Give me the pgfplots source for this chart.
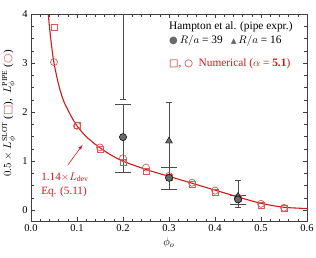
\documentclass[border=0pt]{standalone}
\usepackage{pgfplots}
\pgfplotsset{compat=1.18}
\usepackage{fontspec}
\setmainfont{Liberation Serif}
\newfontfamily\symfont{DejaVu Sans}
\definecolor{cred}{RGB}{210,25,25}
\definecolor{mred}{RGB}{215,90,90}
\definecolor{mgray}{RGB}{105,105,105}
\begin{document}
\begin{tikzpicture}
\useasboundingbox (-31bp,-37bp) rectangle (285bp,221bp);
\begin{axis}[
  at={(0,0)}, anchor=south west,
  scale only axis, width=276bp, height=207bp,
  xmin=0, xmax=0.6, ymin=-0.22, ymax=4,
  xtick={0,0.1,...,0.6}, ytick={0,1,2,3,4},
  minor x tick num=4, minor y tick num=3,
  tick align=inside, ticks=both,
  major tick length=4bp, minor tick length=2.5bp,
  axis line style={black!75, line width=0.6pt},
  every tick/.style={black!75, line width=0.5pt},
  xticklabel style={/pgf/number format/fixed, /pgf/number format/fixed zerofill, /pgf/number format/precision=1},
  /pgf/number format/assume math mode=true,
  tick label style={font=\fontsize{10.5}{12}\selectfont},
  label style={font=\fontsize{11}{13}\selectfont},
  xlabel={$\phi_o$},
  ylabel={$0.5\times L_\phi^{\mathrm{SLOT}}$ ({\color{mred}\symfont □}),\enspace $L_\phi^{\mathrm{PIPE}}$ ({\color{mred}\symfont ○})},
  ylabel style={at={(axis description cs:-0.08,0.52)}, anchor=center},
  xlabel style={at={(axis description cs:0.5,-0.106)}, anchor=center},
  clip=true,
]
% model curve 1.14 x L_dev
\addplot[cred, line width=1.1pt, smooth, tension=0.5] coordinates {
 (0.0376,4.0) (0.04,3.75) (0.045,3.33) (0.05,3.0) (0.06,2.56) (0.07,2.25)
 (0.08,2.05) (0.09,1.87) (0.1,1.72) (0.12,1.5) (0.15,1.27) (0.175,1.12)
 (0.2,1.0) (0.25,0.83) (0.3,0.69) (0.35,0.55) (0.4,0.41) (0.45,0.27)
 (0.5,0.14) (0.55,0.06) (0.6,0.035)};
% numerical squares
\addplot[only marks, mark=square, mark size=3bp, mred, mark options={line width=0.7pt}] coordinates {
 (0.05,3.73) (0.1,1.72) (0.15,1.25) (0.2,0.97) (0.25,0.80) (0.3,0.66)
 (0.35,0.53) (0.4,0.37) (0.45,0.24) (0.5,0.10) (0.55,0.03)};
% numerical circles
\addplot[only marks, mark=o, mark size=3.5bp, mred, mark options={line width=0.7pt}] coordinates {
 (0.05,3.02) (0.1,1.72) (0.15,1.28) (0.2,1.06) (0.25,0.87) (0.3,0.70)
 (0.35,0.56) (0.4,0.40) (0.45,0.26) (0.5,0.13) (0.55,0.05)};
% Hampton R/a=16 off-scale at 0.2 (lower error bar only)
\addplot[mark=none, draw=none, error bars/.cd, y dir=minus, y explicit,
  error bar style={draw=black!70, line width=0.6pt},
  error mark options={rotate=90, mark size=3bp, draw=black!70, line width=0.6pt}]
  coordinates {(0.2,5.2) -= (0,2.94)};
% Hampton R/a=16 triangles
\addplot[only marks, mark=triangle*, mark size=4bp, mark options={fill=mgray, draw=black, line width=0.4pt},
  error bars/.cd, y dir=both, y explicit,
  error bar style={draw=black!70, line width=0.6pt},
  error mark options={rotate=90, mark size=3bp, draw=black!70, line width=0.6pt}]
  coordinates {(0.3,1.41) += (0,0.80) -= (0,0.80) (0.45,0.28) += (0,0.32) -= (0,0.22)};
% Hampton R/a=39 circles
\addplot[only marks, mark=*, mark size=3.6bp, mark options={fill=mgray, draw=black, line width=0.5pt},
  error bars/.cd, y dir=both, y explicit,
  error bar style={draw=black!70, line width=0.6pt},
  error mark options={rotate=90, mark size=8bp, draw=black!70, line width=0.6pt}]
  coordinates {(0.2,1.49) += (0,0.67) -= (0,0.71) (0.3,0.66) += (0,0.21) -= (0,0.23) (0.45,0.22) += (0,0.09) -= (0,0.09)};
% legend text
\node[anchor=west, font=\fontsize{11.4}{13}\selectfont, inner sep=0pt] at (axis cs:0.3,3.73) {Hampton et al. (pipe expr.)};
\node[anchor=west, font=\fontsize{11.4}{13}\selectfont, inner sep=0pt] at (axis cs:0.3,3.45)
  {{\color{mgray}\symfont\fontsize{10}{10}\selectfont ●}\,$R/a$ = 39\hspace{8bp}{\color{mgray}\symfont\fontsize{7.5}{10}\selectfont ▲}\,$R/a$ = 16};
\node[anchor=west, font=\fontsize{11.4}{13}\selectfont, inner sep=0pt, text=cred] at (axis cs:0.3,2.98)
  {{\symfont\fontsize{10}{10}\selectfont □}, {\symfont\fontsize{10}{10}\selectfont ○}\ \ Numerical ($\alpha$ = \textbf{5.1})};
% annotation
\node[anchor=west, font=\fontsize{11.2}{13}\selectfont, inner sep=0pt, text=cred] at (axis cs:0.022,0.67) {1.14$\times$$L_{\mathrm{dev}}$};
\node[anchor=west, font=\fontsize{11.2}{13}\selectfont, inner sep=0pt, text=cred] at (axis cs:0.022,0.37) {Eq. (5.11)};
\draw[cred, line width=0.6pt, -{latex}] (axis cs:0.08,0.92) -- (axis cs:0.112,1.33);
\end{axis}
\end{tikzpicture}
\end{document}
